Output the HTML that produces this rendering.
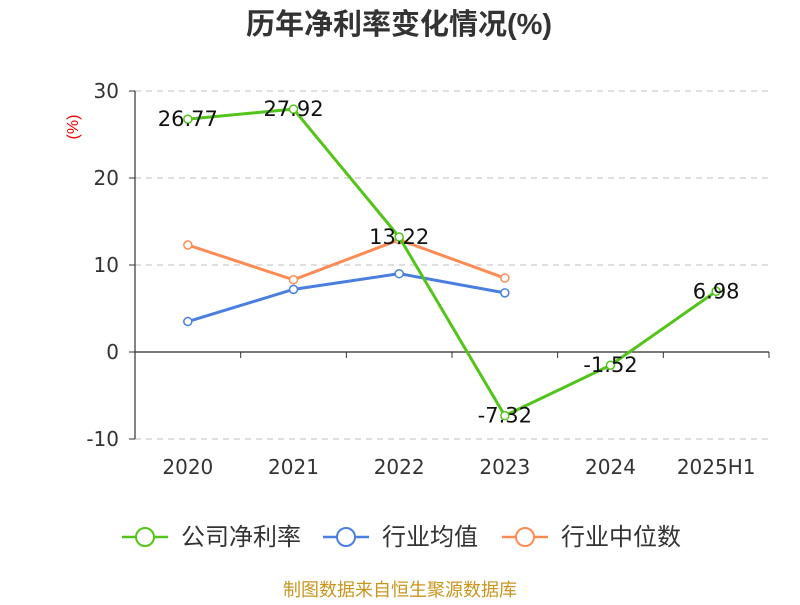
<!DOCTYPE html>
<html><head><meta charset="utf-8"><style>
body{margin:0;background:#fff;font-family:"Liberation Sans","Noto Sans CJK SC",sans-serif}
</style></head><body>
<svg id="c" width="800" height="600" xmlns="http://www.w3.org/2000/svg" style="font-family:'Liberation Sans','Noto Sans CJK SC',sans-serif">
<text x="399" y="34" text-anchor="middle" font-size="29" font-weight="bold" fill="#333">历年净利率变化情况(%)</text>
<text x="78" y="127" transform="rotate(-90 78 127)" text-anchor="middle" font-size="16" fill="#e00">(%)</text>
<g id="grid"></g><g id="axes"></g><g id="series"></g>
<g>
<g><line x1="122" y1="537" x2="168" y2="537" stroke="#52c41a" stroke-width="2.5"/><circle cx="145" cy="537" r="9" fill="#fff" stroke="#52c41a" stroke-width="2"/><text x="181" y="545" font-size="24" fill="#333">公司净利率</text></g>
<g><line x1="323" y1="537" x2="369" y2="537" stroke="#4a7fe0" stroke-width="2.5"/><circle cx="346" cy="537" r="9" fill="#fff" stroke="#4a7fe0" stroke-width="2"/><text x="382" y="545" font-size="24" fill="#333">行业均值</text></g>
<g><line x1="502" y1="537" x2="548" y2="537" stroke="#ff8c55" stroke-width="2.5"/><circle cx="525" cy="537" r="9" fill="#fff" stroke="#ff8c55" stroke-width="2"/><text x="561" y="545" font-size="24" fill="#333">行业中位数</text></g>
</g>
<text x="400" y="596" text-anchor="middle" font-size="18" fill="#c8961e">制图数据来自恒生聚源数据库</text>
</svg>
<script>
const categories=["2020","2021","2022","2023","2024","2025H1"];
const companyValues=[26.77,27.92,13.22,-7.32,-1.52,6.98];
const industryAvg=[3.5,7.2,9.0,6.8,null,null];
const industryMedian=[12.3,8.3,12.9,8.5,null,null];
const yTicks=[30,20,10,0,-10];
const NS="http://www.w3.org/2000/svg";
const F="'DejaVu Sans','Liberation Sans',sans-serif";
const x0=135,x1=769,yTop=91,yBot=439,vmax=30,vmin=-10;
const bw=(x1-x0)/categories.length;
const X=i=>x0+bw*(i+0.5);
const Y=v=>yTop+(vmax-v)/(vmax-vmin)*(yBot-yTop);
function mk(t,a,p){const e=document.createElementNS(NS,t);for(const k in a)e.setAttribute(k,a[k]);p.appendChild(e);return e;}
const grid=document.getElementById('grid'),axes=document.getElementById('axes'),ser=document.getElementById('series');
yTicks.forEach(v=>{
 const l=mk('line',{x1:x0,x2:x1,y1:Y(v),y2:Y(v),stroke:'#ccc','stroke-dasharray':v===0?'':'6,5','stroke-width':1.2},grid);
 
 
 const t=mk('text',{x:x0-16,y:Y(v)+7,'text-anchor':'end','font-size':20,fill:'#333','font-family':F},axes);
 t.textContent=v;
 
 
 mk('line',{x1:x0-6,x2:x0,y1:Y(v),y2:Y(v),stroke:'#333'},axes);
});
const ya=mk('line',{x1:x0,x2:x0,y1:yTop,y2:yBot,stroke:'#333','stroke-width':1.2},axes);


const xa=mk('line',{x1:x0,x2:x1,y1:Y(0),y2:Y(0),stroke:'#333','stroke-width':1.2},axes);


for(let i=0;i<=categories.length;i++)mk('line',{x1:x0+bw*i,x2:x0+bw*i,y1:Y(0),y2:Y(0)+6,stroke:'#333'},axes);
categories.forEach((c,i)=>{
 const t=mk('text',{x:X(i),y:474,'text-anchor':'middle','font-size':20,fill:'#333','font-family':F},axes);
 t.textContent=c;
 
 
});
function draw(vals,color,name,labels){
 const pts=vals.map((v,i)=>v==null?null:[X(i),Y(v)]).filter(p=>p);
 const pl=mk('polyline',{points:pts.map(p=>p.join(',')).join(' '),fill:'none',stroke:color,'stroke-width':3},ser);
 
 
 vals.forEach((v,i)=>{if(v==null)return;
  const c=mk('circle',{cx:X(i),cy:Y(v),r:4,fill:'#fff',stroke:color,'stroke-width':1.5},ser);
  
  
  if(labels){const t=mk('text',{x:X(i),y:Y(v)+7,'text-anchor':'middle','font-size':21,fill:'#111','font-family':F},ser);
   t.textContent=v.toFixed(2);
   
   }
 });
}
draw(industryAvg,'#4a7fe0','industry-average',false);
draw(industryMedian,'#ff8c55','industry-median',false);
draw(companyValues,'#52c41a','company',true);
</script>
</body></html>
